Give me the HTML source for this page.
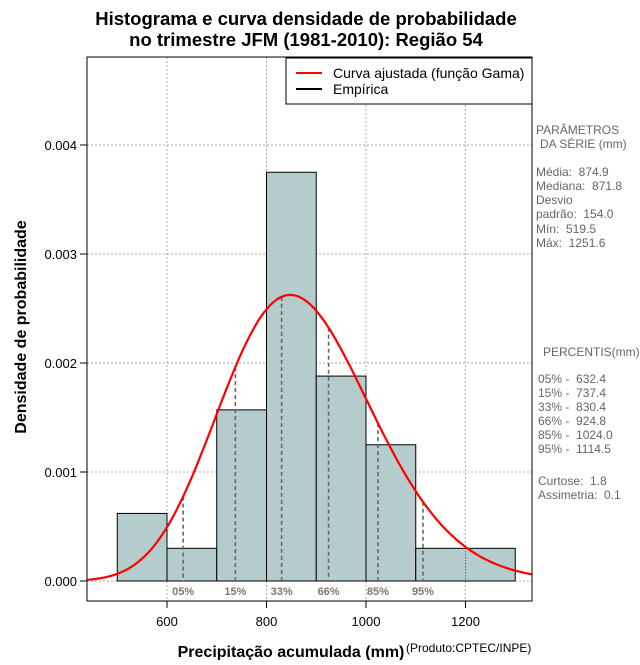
<!DOCTYPE html>
<html><head><meta charset="utf-8"><style>
body{margin:0;background:#fff;}
svg text{font-family:"Liberation Sans",sans-serif;white-space:pre;}
</style></head><body>
<svg id="chart" width="640" height="660" viewBox="0 0 640 660" xmlns="http://www.w3.org/2000/svg" xml:space="preserve">
<text x="306" y="25" text-anchor="middle" font-size="18.5" font-weight="bold">Histograma e curva densidade de probabilidade</text>
<text x="306" y="46" text-anchor="middle" font-size="18.5" font-weight="bold">no trimestre JFM (1981-2010): Região 54</text>
<g id="grid"></g>
<g id="bars"></g>
<g id="pct"></g>
<path id="curve" fill="none" stroke="#ff0000" stroke-width="2.2"/>
<rect x="87" y="57" width="445" height="544" fill="none" stroke="#000"/>
<g id="axes"></g>
<text x="0" y="0" transform="translate(26,327) rotate(-90)" text-anchor="middle" font-size="16" font-weight="bold">Densidade de probabilidade</text>
<text x="291" y="657" text-anchor="middle" font-size="16" font-weight="bold">Precipitação acumulada (mm)</text>
<text x="406" y="652" font-size="12">(Produto:CPTEC/INPE)</text>
<g>
<rect x="286" y="58" width="246" height="46" fill="#fff" stroke="#000"/>
<line x1="296" y1="73" x2="322" y2="73" stroke="#ff0000" stroke-width="2"/>
<text x="333" y="78" font-size="14">Curva ajustada (função Gama)</text>
<line x1="296" y1="89" x2="322" y2="89" stroke="#000" stroke-width="2"/>
<text x="333" y="94" font-size="14">Empírica</text>
</g>
<g fill="#666" font-size="12">
<text x="536" y="134">PARÂMETROS</text><text x="540" y="148">DA SÉRIE (mm)</text>
<text x="536" y="176">Média:  874.9</text><text x="536" y="190">Mediana:  871.8</text>
<text x="536" y="204">Desvio</text><text x="536" y="218">padrão:  154.0</text>
<text x="536" y="233">Mín:  519.5</text><text x="536" y="247">Máx:  1251.6</text>
<text x="543" y="356">PERCENTIS(mm)</text>
<text x="538" y="383">05% -  632.4</text><text x="538" y="397">15% -  737.4</text>
<text x="538" y="411">33% -  830.4</text><text x="538" y="425">66% -  924.8</text>
<text x="538" y="439">85% -  1024.0</text><text x="538" y="453">95% -  1114.5</text>
<text x="538" y="485">Curtose:  1.8</text><text x="538" y="499">Assimetria:  0.1</text>
</g>
</svg>
<script>
const binEdges=[500,600,700,800,900,1000,1100,1300];
const binDensity=[0.00062,0.0003,0.00157,0.00375,0.00188,0.00125,0.0003];
const xTicks=[600,800,1000,1200];
const yTicks=[0,0.001,0.002,0.003,0.004];
const yTickLabels=["0.000","0.001","0.002","0.003","0.004"];
const pctValues=[632.4,737.4,830.4,924.8,1024.0,1114.5];
const pctLabels=["05%","15%","33%","66%","85%","95%"];
const gammaMean=874.9;
const gammaSd=154.0;
const NS="http://www.w3.org/2000/svg";
const X=v=>167+(v-600)*0.4975;
const Y=d=>581-d*109000;
function mk(t,a,p){const e=document.createElementNS(NS,t);for(const k in a)e.setAttribute(k,a[k]);p.appendChild(e);return e;}
const k=(gammaMean/gammaSd)**2, th=gammaSd*gammaSd/gammaMean;
function lgamma(z){const c=[76.18009172947146,-86.50532032941677,24.01409824083091,-1.231739572450155,0.1208650973866179e-2,-0.5395239384953e-5];let x=z,y=z,t=x+5.5;t-=(x+0.5)*Math.log(t);let s=1.000000000190015;for(const q of c)s+=q/++y;return -t+Math.log(2.5066282746310005*s/x);}
const dens=x=>Math.exp((k-1)*Math.log(x)-x/th-k*Math.log(th)-lgamma(k));
const grid=document.getElementById('grid'),bars=document.getElementById('bars'),pct=document.getElementById('pct'),axes=document.getElementById('axes');
yTicks.forEach((t,i)=>{
 const g=mk('line',{x1:87,x2:532,y1:Y(t),y2:Y(t),stroke:'#aaa','stroke-dasharray':'2,2'},grid);
 
 const tk=mk('line',{x1:80,x2:87,y1:Y(t),y2:Y(t),stroke:'#000'},axes);
 
 const tx=mk('text',{x:77,y:Y(t)+5,'text-anchor':'end','font-size':13},axes);tx.textContent=yTickLabels[i];
 
});
xTicks.forEach(t=>{
 const g=mk('line',{x1:X(t),x2:X(t),y1:57,y2:601,stroke:'#aaa','stroke-dasharray':'2,2'},grid);
 
 const tk=mk('line',{x1:X(t),x2:X(t),y1:601,y2:608,stroke:'#000'},axes);
 
 const tx=mk('text',{x:X(t),y:626,'text-anchor':'middle','font-size':13},axes);tx.textContent=t;
 
});
binDensity.forEach((d,i)=>{
 const r=mk('rect',{x:X(binEdges[i]),y:Y(d),width:X(binEdges[i+1])-X(binEdges[i]),height:Y(0)-Y(d),fill:'#b4cccc',stroke:'#000'},bars);
 
});
xTicks.forEach(t=>{
 let h=Infinity;binDensity.forEach((d,i)=>{if(t>=binEdges[i]&&t<=binEdges[i+1])h=Math.min(h,d);});
 if(!isFinite(h))return;
 const l=mk('line',{x1:X(t),x2:X(t),y1:Y(h),y2:581,stroke:'#000','stroke-dasharray':'1,2','stroke-opacity':0.7},bars);
 });
const zl=mk('line',{x1:X(binEdges[0]),x2:X(binEdges[binEdges.length-1]),y1:Y(0),y2:Y(0),stroke:'#000','stroke-dasharray':'1,2','stroke-opacity':0.7},bars);

pctValues.forEach((v,i)=>{
 const l=mk('line',{x1:X(v),x2:X(v),y1:Y(dens(v)),y2:Y(0),stroke:'#666','stroke-width':1.6,'stroke-dasharray':'4,3'},pct);
 
 const tx=mk('text',{x:X(v),y:595,'text-anchor':'middle','font-size':11,'font-weight':'bold',fill:'#777'},pct);tx.textContent=pctLabels[i];
 
});
let d='';for(let x=440;x<=1334;x+=3){d+=(d?'L':'M')+X(x).toFixed(1)+','+Y(dens(x)).toFixed(1);}
document.getElementById('curve').setAttribute('d',d);
</script>
</body></html>
